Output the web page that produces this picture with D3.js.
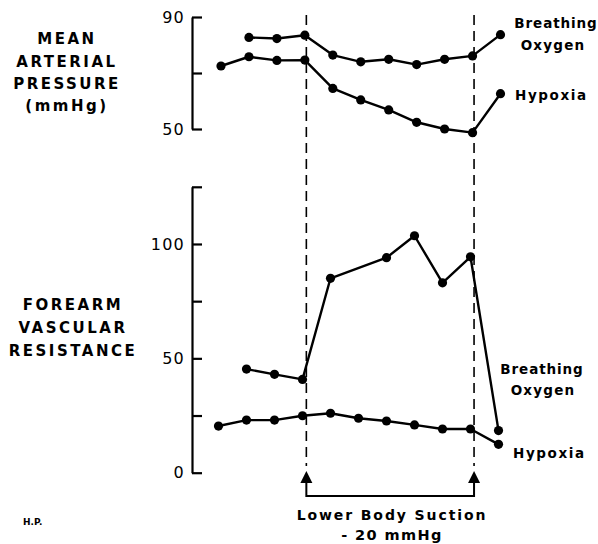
<!DOCTYPE html>
<html><head><meta charset="utf-8">
<script src="https://cdn.jsdelivr.net/npm/d3@7"></script>
<style>
body{margin:0;background:#fff;}
text{font-family:"DejaVu Sans",sans-serif;fill:#000;}
</style></head>
<body>
<svg id="c" width="598" height="544"></svg>
<script>
// time points (index along the protocol)
const timeIdx = [0,1,2,3,4,5,6,7,8,9,10];
// Mean arterial pressure (mmHg)
const mapHypoxia = [72.5, 75.8, 74.5, 74.6, 64.5, 60.4, 56.8, 52.4, 50.0, 48.7, 62.6];
const mapOxygen  = [null, 82.7, 82.3, 83.5, 76.4, 74.0, 74.9, 73.0, 74.9, 76.1, 83.7];
// Forearm vascular resistance
const fvrHypoxia = [20.4, 23.0, 23.0, 24.9, 26.0, 23.8, 22.6, 20.9, 19.1, 19.1, 12.4];
const fvrOxygen  = [null, 45.3, 43.0, 40.8, 85.0, null, 94.0, 103.6, 83.0, 94.4, 18.4];
// axis ticks / labels
const mapTicks = [50, 70, 90];
const mapTickLabels = [50, 90];
const fvrTicks = [0, 25, 50, 75, 100, 125];
const fvrTickLabels = [0, 50, 100];
const suctionStart = 3, suctionEnd = 9;
const leftLabelTop = ["MEAN", "ARTERIAL", "PRESSURE", "(mmHg)"];
const leftLabelBottom = ["FOREARM", "VASCULAR", "RESISTANCE"];
const seriesLabels = ["Breathing", "Oxygen", "Hypoxia"];
const suctionLabel = ["Lower Body Suction", "- 20 mmHg"];
const footnote = "H.P.";

const svg = d3.select("#c");
svg.append("rect").attr("width",598).attr("height",544).attr("fill","#fff");

const axisX = 192;
const xTop = d3.scaleLinear().domain([0,10]).range([221, 500.5]);
const xBot = d3.scaleLinear().domain([0,10]).range([218.5, 498.5]);
const yTop = d3.scaleLinear().domain([50,90]).range([129, 17]);
const yBot = d3.scaleLinear().domain([0,125]).range([472.7, 186.8]);

function drawAxis(y, ticks, labels){
  const g = svg.append("g").attr("transform",`translate(${axisX},0)`);
  g.call(d3.axisRight(y).tickValues(ticks).tickSize(10).tickSizeOuter(0).tickFormat(""));
  g.selectAll("path,line").attr("stroke","#000").attr("stroke-width",2.2);
  const gl = svg.append("g").attr("transform",`translate(${axisX},0)`);
  gl.call(d3.axisLeft(y).tickValues(labels).tickSize(0).tickPadding(7).tickFormat(d3.format("d")));
  gl.select(".domain").remove();
  gl.selectAll("text").attr("font-size",16).attr("letter-spacing",1.2)
    .style("font-family","DejaVu Sans, sans-serif").attr("fill","#000");
}
drawAxis(yTop, mapTicks, mapTickLabels);
drawAxis(yBot, fvrTicks, fvrTickLabels);

// dashed suction markers
const dashX = [suctionStart, suctionEnd].map(i => xTop(i) + 1.5);
dashX.forEach(x => {
  svg.append("line").attr("x1",x).attr("x2",x).attr("y1",15).attr("y2",466)
    .attr("stroke","#000").attr("stroke-width",1.6).attr("stroke-dasharray","10,6");
});
// bracket with arrows
const bracketY = 496;
svg.append("path")
  .attr("d",`M${dashX[0]},478 V${bracketY} H${dashX[1]} V478`)
  .attr("fill","none").attr("stroke","#000").attr("stroke-width",2);
dashX.forEach(x => {
  svg.append("path").attr("d",`M${x},471 L${x-6},483 L${x+6},483 Z`).attr("fill","#000");
});

function drawSeries(xs, y, vals){
  const pts = timeIdx.map((t,i)=>({t, v: vals[i]})).filter(d => d.v != null);
  const line = d3.line().x(d=>xs(d.t)).y(d=>y(d.v));
  svg.append("path").datum(pts).attr("d",line).attr("fill","none")
    .attr("stroke","#000").attr("stroke-width",2.4).attr("stroke-linejoin","round");
  svg.append("g").selectAll("circle").data(pts).join("circle")
    .attr("cx",d=>xs(d.t)).attr("cy",d=>y(d.v)).attr("r",4.6).attr("fill","#000");
}
drawSeries(xTop, yTop, mapHypoxia);
drawSeries(xTop, yTop, mapOxygen);
drawSeries(xBot, yBot, fvrHypoxia);
drawSeries(xBot, yBot, fvrOxygen);

function txt(x, y, s, size, anchor, ls){
  svg.append("text").attr("x",x).attr("y",y).attr("font-size",size)
    .attr("font-weight","bold").attr("text-anchor",anchor||"middle")
    .attr("letter-spacing",ls||0).attr("dominant-baseline","central").text(s);
}
// left labels
const topYs = [39, 62, 84, 105.5];
leftLabelTop.forEach((s,i)=>txt(67, topYs[i], s, 15, "middle", 2.5));
const botYs = [305, 328, 351];
leftLabelBottom.forEach((s,i)=>txt(73, botYs[i], s, 15, "middle", 2.5));

// series labels top
txt(556, 23, seriesLabels[0], 13.5, "middle", 0.9);
txt(553, 45, seriesLabels[1], 13.5, "middle", 1.2);
txt(515, 94.5, seriesLabels[2], 13.5, "start", 1.6);
// series labels bottom
txt(542, 368.5, seriesLabels[0], 13.5, "middle", 0.9);
txt(543, 390, seriesLabels[1], 13.5, "middle", 1.2);
txt(513, 452.5, seriesLabels[2], 13.5, "start", 1.6);

// suction label
txt(392, 515, suctionLabel[0], 14, "middle", 1.9);
txt(392, 535, suctionLabel[1], 14.5, "middle", 1.4);
// footnote
txt(23, 522, footnote, 9, "start", 0);
</script>
</body></html>
